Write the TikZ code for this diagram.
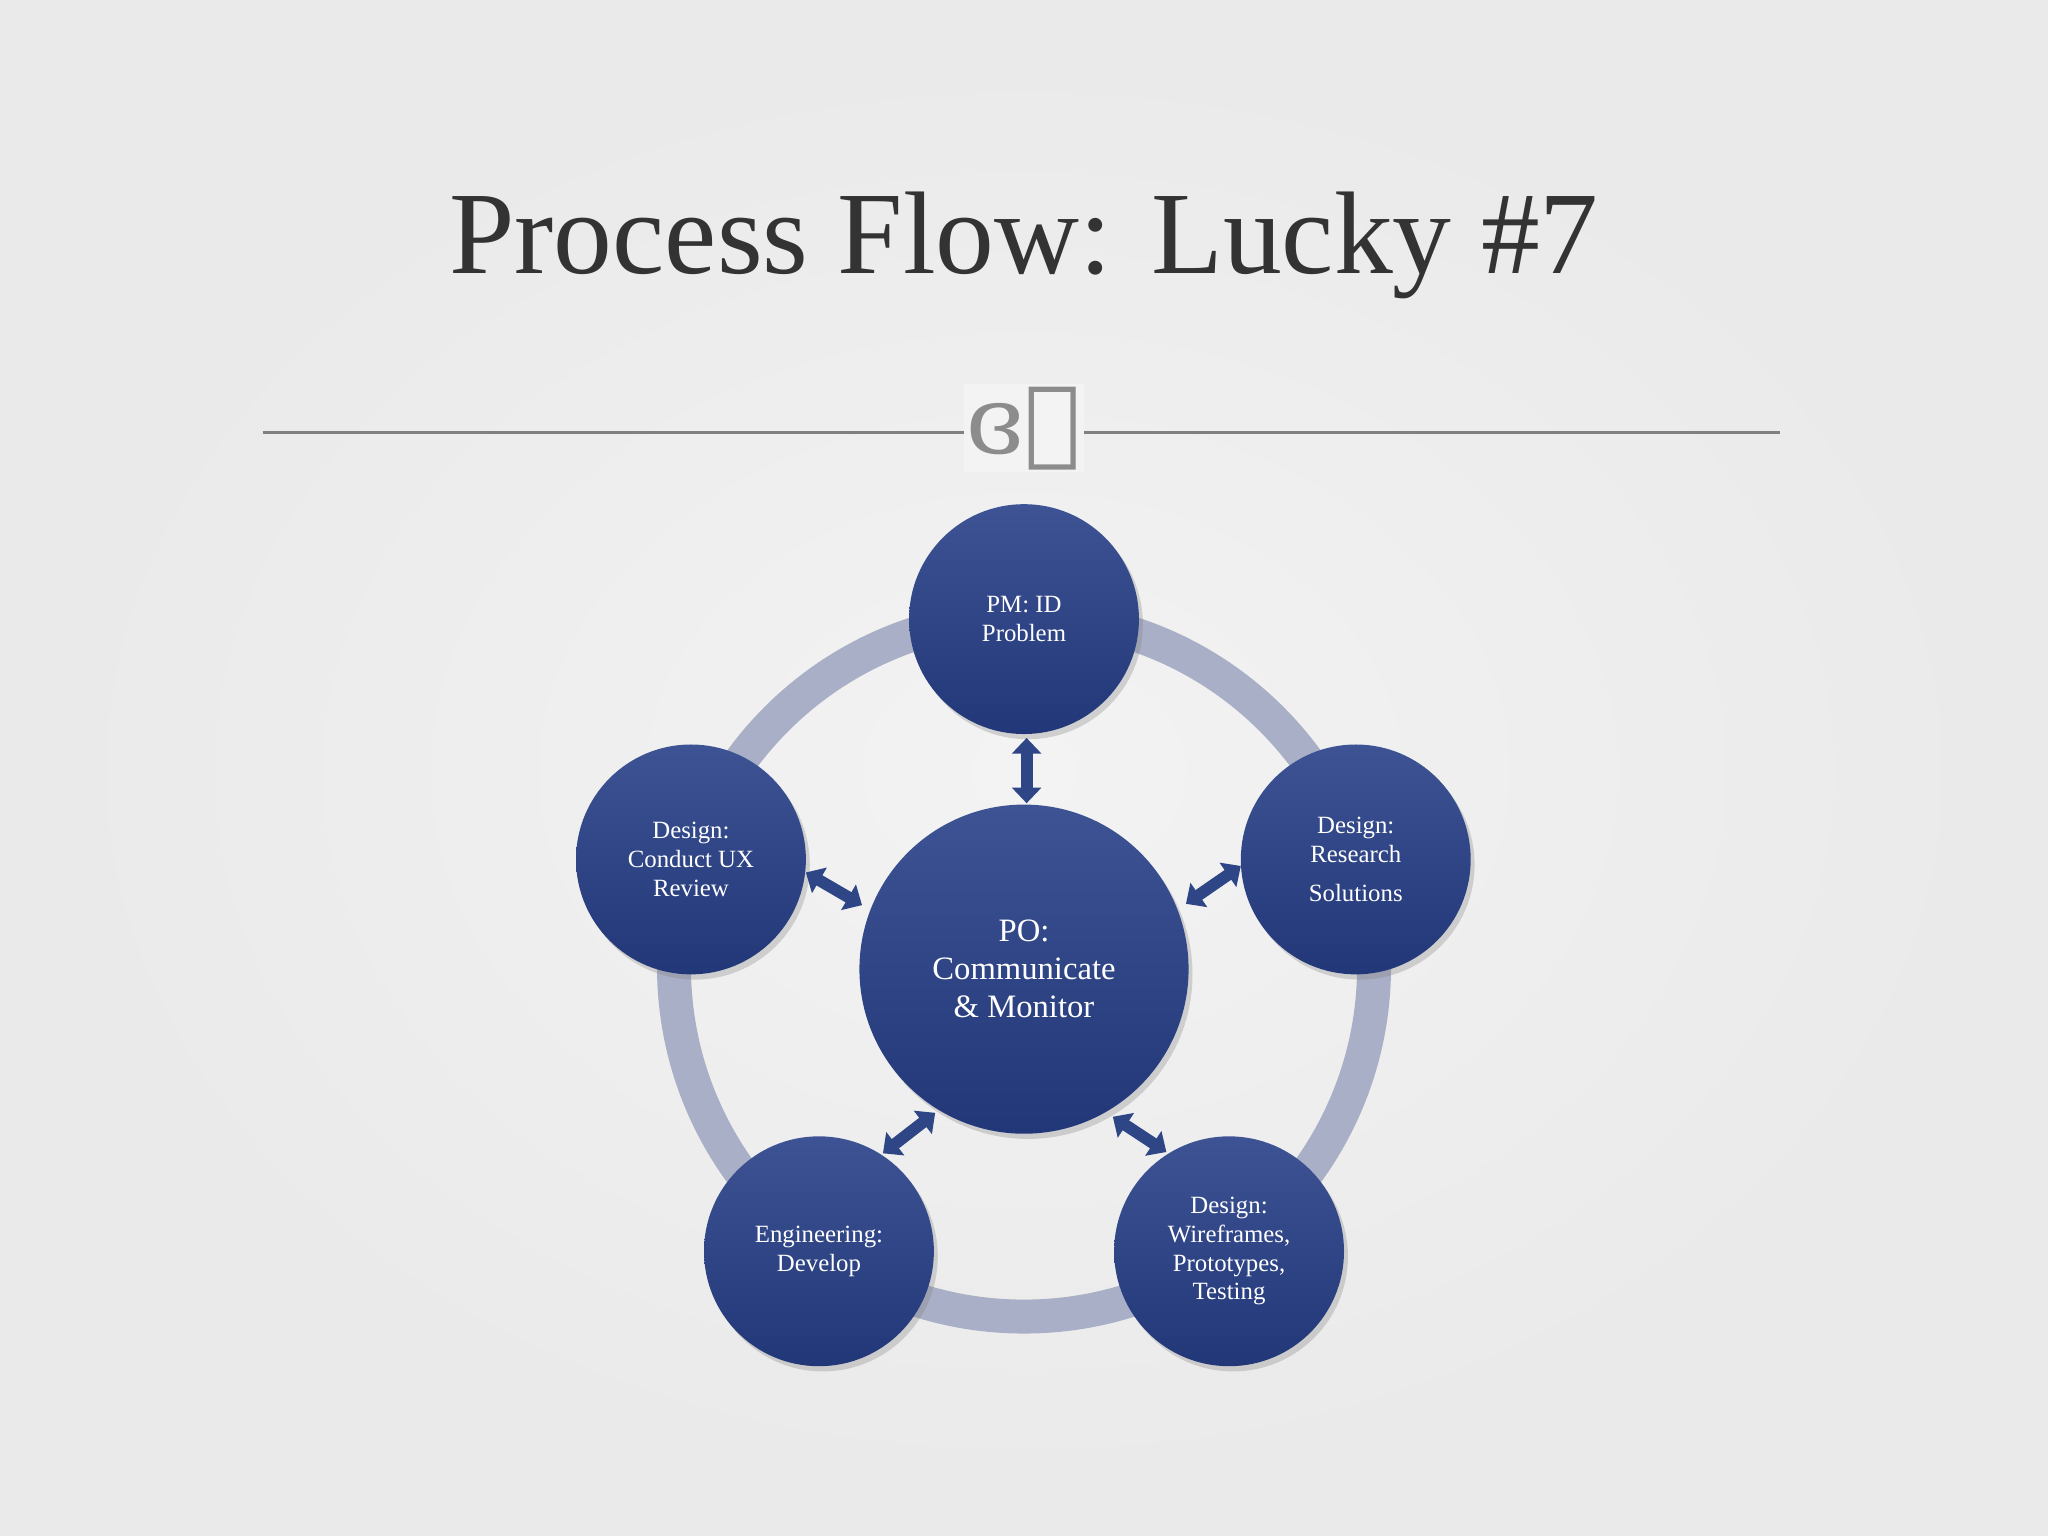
\documentclass[tikz,border=0pt]{standalone}
\usepackage{fontspec}
\setmainfont{Liberation Serif}
\newfontfamily\ornfont{DejaVu Serif}
\usetikzlibrary{arrows.meta,shadows}
\definecolor{bg}{HTML}{EAEAEA}
\definecolor{bgc}{HTML}{F3F3F3}
\definecolor{ring}{HTML}{A9AFC6}
\definecolor{ctop}{HTML}{3E5394}
\definecolor{cbot}{HTML}{213778}
\definecolor{arr}{HTML}{2F4686}
\tikzset{
  x=0.5pt,y=-0.5pt,
  bub/.style={circle,minimum size=88pt,top color=ctop,bottom color=cbot,draw=none,text=white,align=center,font=\fontsize{9.5}{11}\selectfont,inner sep=0pt,drop shadow={opacity=0.3,shadow xshift=1.5pt,shadow yshift=-2pt}},
  big/.style={bub,minimum size=126pt,font=\fontsize{12.5}{14.5}\selectfont},
  dar/.style={draw=arr,line width=4.5pt,{Triangle[width=11pt,length=6pt]}-{Triangle[width=11pt,length=6pt]}}
}
\begin{document}
\begin{tikzpicture}
\useasboundingbox (0,0) rectangle (1568,1176);
\fill[bg] (0,0) rectangle (1568,1176);
\shade[inner color=bgc,outer color=bg] (40,40) rectangle (1528,1140);
\node[font=\fontsize{45}{52}\selectfont,text=black!80] (title) at (784,188) {Process Flow: Lucky \#7};
\draw[gray,line width=1pt] (201,331) -- (1363,331);
\node[fill=bgc,inner sep=1pt,text=gray!90,font=\ornfont\fontsize{36}{36}\selectfont] (orn) at (784,328) {ɞℬ};
\draw[ring,line width=13pt] (784,740) circle[radius=268];
\node[big] (c) at (784,742) {PO:\\Communicate\\\& Monitor};
\node[bub] (t) at (784,474) {PM: ID\\Problem};
\node[bub] (l) at (529,658) {Design:\\Conduct UX\\Review};
\node[bub] (r) at (1038,658) {Design:\\Research\\[4pt]Solutions};
\node[bub] (bl) at (627,958) {Engineering:\\Develop};
\node[bub] (br) at (941,958) {Design:\\Wireframes,\\Prototypes,\\Testing};
\coordinate (a1) at (786,565); \coordinate (a2) at (786,615);
\coordinate (b1) at (617,668); \coordinate (b2) at (660,693);
\coordinate (c1) at (950,663); \coordinate (c2) at (908,692);
\coordinate (d1) at (676,883); \coordinate (d2) at (716,852);
\coordinate (e1) at (852,855); \coordinate (e2) at (893,882);
\draw[dar] (a1) -- (a2);
\draw[dar] (b1) -- (b2);
\draw[dar] (c1) -- (c2);
\draw[dar] (d1) -- (d2);
\draw[dar] (e1) -- (e2);
\end{tikzpicture}
\end{document}
